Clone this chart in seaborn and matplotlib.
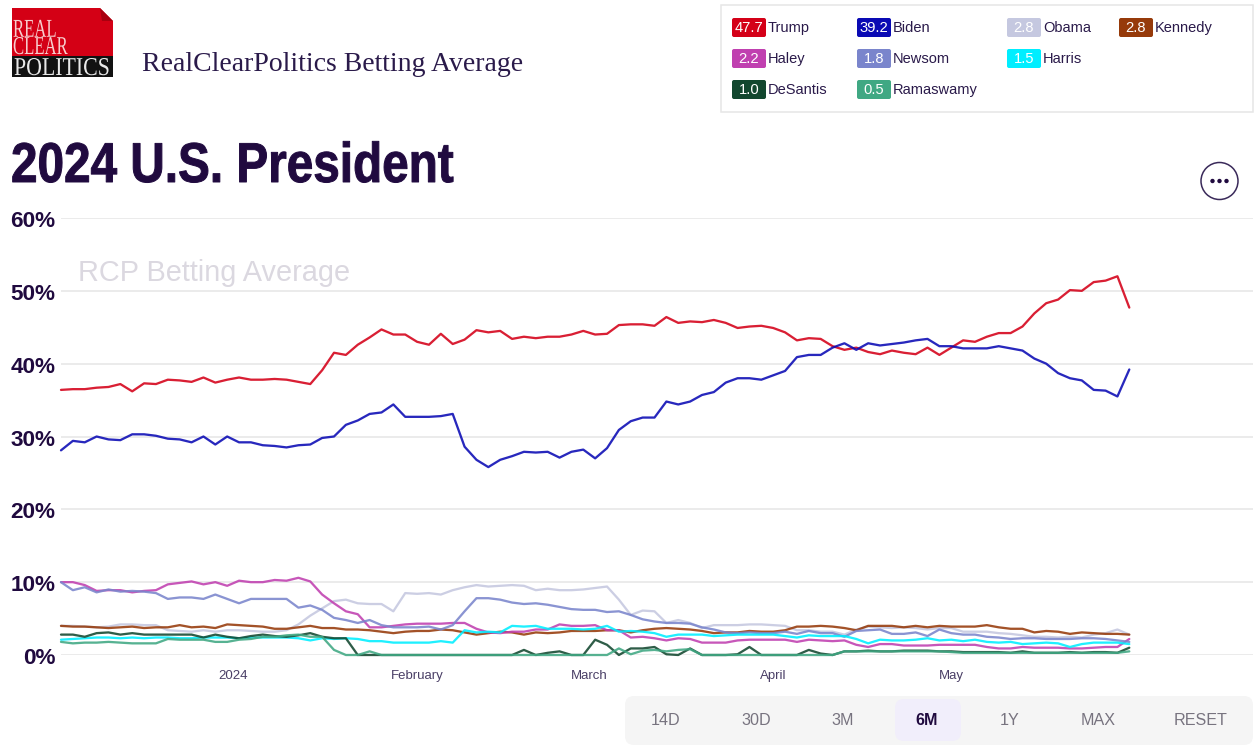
import numpy as np
import pandas as pd
import matplotlib
matplotlib.use("Agg")
import matplotlib.pyplot as plt
import matplotlib.dates as mdates
from matplotlib.patches import Rectangle, FancyBboxPatch, Circle, Polygon
from matplotlib.patheffects import AbstractPathEffect
from matplotlib.ticker import FuncFormatter
from matplotlib.transforms import Affine2D, ScaledTranslation
import seaborn as sns

START = "2023-12-03"
candidates = ["Trump", "Biden", "Obama", "Kennedy", "Haley", "Newsom", "Harris", "DeSantis", "Ramaswamy"]
latest = ["47.7", "39.2", "2.8", "2.8", "2.2", "1.8", "1.5", "1.0", "0.5"]
colors = ["#d40018", "#0a0ab4", "#c5c8e0", "#963a0a", "#c040b0", "#7a85cc", "#00eeff", "#12472f", "#40a883"]
y_ticks = [0, 10, 20, 30, 40, 50, 60]
buttons = ["14D", "30D", "3M", "6M", "1Y", "MAX", "RESET"]

trump = [36.4,36.5,36.5,36.7,36.8,37.2,36.2,37.3,37.2,37.8,
         37.7,37.5,38.1,37.4,37.8,38.1,37.8,37.8,37.9,37.8,
         37.5,37.2,39.1,41.5,41.2,42.6,43.6,44.7,44.0,44.0,
         43.0,42.6,44.1,42.7,43.3,44.6,44.3,44.5,43.4,43.7,
         43.5,43.7,43.7,44.0,44.5,44.0,44.1,45.3,45.4,45.4,
         45.2,46.4,45.6,45.8,45.7,46.0,45.6,44.9,45.1,45.2,
         44.9,44.3,43.2,43.5,43.4,42.4,41.9,42.2,41.6,41.3,
         41.8,41.5,41.3,42.2,41.2,42.2,43.2,43.0,43.7,44.2,
         44.2,45.1,46.9,48.3,48.8,50.1,50.0,51.2,51.4,52.0,47.7]
biden = [28.1,29.4,29.2,30.0,29.6,29.5,30.3,30.3,30.1,29.7,
         29.6,29.2,30.0,28.9,30.0,29.2,29.2,28.8,28.7,28.5,
         28.8,28.9,29.8,30.0,31.6,32.2,33.1,33.3,34.4,32.7,
         32.7,32.7,32.8,33.1,28.6,26.8,25.8,26.8,27.3,27.9,
         27.8,27.9,27.1,27.9,28.2,27.0,28.4,30.9,32.1,32.6,
         32.6,34.8,34.4,34.8,35.7,36.1,37.4,38.0,38.0,37.8,
         38.4,39.0,40.9,41.2,41.2,42.2,42.8,41.9,42.8,42.5,
         42.7,42.9,43.2,43.4,42.4,42.4,42.1,42.1,42.1,42.4,
         42.1,41.8,40.7,40.0,38.7,38.0,37.7,36.4,36.3,35.5,39.2]
obama = [4.0,4.0,3.9,3.8,3.9,4.2,4.2,4.1,4.1,3.4,
         3.3,3.2,3.4,3.2,3.4,3.4,3.3,3.2,3.2,3.4,
         4.2,5.4,6.4,7.4,7.6,7.1,7.0,7.0,6.0,8.5,
         8.4,8.5,8.3,8.9,9.3,9.6,9.4,9.5,9.6,9.5,
         8.9,9.1,8.9,8.9,9.0,9.2,9.4,7.6,5.5,6.1,
         6.0,4.4,4.8,4.4,3.7,4.1,4.1,4.1,4.2,4.2,
         4.1,4.0,3.4,3.4,3.2,3.2,2.8,3.5,3.9,3.8,
         3.7,3.8,3.7,3.5,3.7,3.7,3.2,3.2,3.2,3.0,
         2.9,2.7,2.5,2.5,2.4,2.5,2.4,2.8,3.0,3.5,2.8]
kennedy = [4.0,3.9,3.9,3.8,3.7,3.8,3.9,3.7,3.8,3.8,
           4.1,3.8,3.9,3.7,4.2,4.1,4.0,3.9,3.6,3.6,
           3.8,4.0,3.7,3.7,3.5,3.5,3.4,3.2,3.0,3.2,
           3.3,3.3,3.5,3.4,3.1,2.8,3.0,3.2,3.1,2.8,
           3.1,3.0,3.1,3.3,3.3,3.3,3.4,3.4,3.1,3.4,
           3.6,3.7,3.6,3.5,3.3,3.0,3.1,3.1,3.3,3.2,
           3.2,3.4,3.9,3.9,4.0,3.9,3.7,3.4,4.0,4.0,
           4.0,3.8,4.0,3.8,4.0,3.9,3.9,3.9,4.1,3.8,
           3.6,3.6,3.1,3.3,3.2,2.9,3.1,3.0,2.9,2.9,2.8]
haley = [10.0,10.0,9.6,8.8,8.9,8.9,8.6,8.8,8.9,9.7,
         9.9,10.1,9.7,10.0,9.5,10.2,10.0,10.0,10.3,10.2,
         10.6,10.1,8.3,7.1,6.0,5.6,3.8,3.8,4.0,4.2,
         4.3,4.3,4.3,4.4,4.4,3.6,3.1,3.0,3.2,3.2,
         3.5,3.5,4.2,4.0,4.0,4.1,3.4,3.4,2.4,2.5,
         2.3,2.0,2.3,2.2,1.7,1.7,1.7,2.0,2.1,2.1,
         2.1,2.1,1.8,2.1,2.0,1.9,2.0,1.4,1.1,1.5,
         1.5,1.3,1.3,1.3,1.4,1.4,1.4,1.4,1.1,0.9,
         0.9,1.1,1.0,1.0,1.0,0.9,0.9,1.0,1.1,1.1,2.2]
newsom = [10.0,8.9,9.3,8.6,9.0,8.7,8.8,8.7,8.5,7.7,
          7.9,7.9,7.7,8.3,7.7,7.1,7.7,7.7,7.7,7.7,
          6.5,6.8,6.2,5.1,4.8,4.4,4.8,4.1,3.8,3.8,
          3.8,3.9,3.5,4.1,6.0,7.8,7.8,7.6,7.2,7.0,
          7.1,6.9,6.6,6.3,6.2,6.2,5.9,6.0,5.5,4.9,
          4.6,4.4,4.4,4.3,3.8,3.5,3.1,3.0,3.1,3.0,
          3.0,3.2,2.9,3.3,3.0,3.0,2.5,3.3,3.4,3.5,
          2.9,2.9,3.1,2.6,3.5,3.0,2.8,2.8,2.5,2.4,
          2.2,2.3,2.3,2.2,2.2,2.2,2.3,2.3,2.2,2.0,1.8]
harris = [2.1,2.2,2.3,2.4,2.4,2.3,2.4,2.3,2.4,2.4,
          2.3,2.3,2.4,2.4,2.4,2.3,2.4,2.4,2.4,2.4,
          2.3,2.0,2.3,2.2,2.3,2.2,1.9,1.9,1.7,1.7,
          1.7,1.7,1.9,1.7,3.4,3.1,3.2,3.1,4.0,3.9,
          4.0,3.6,3.6,3.6,3.5,3.6,4.0,3.2,3.3,3.2,
          3.0,2.5,2.8,2.8,2.8,2.6,2.7,2.8,2.8,2.8,
          2.8,2.6,2.4,2.7,2.6,2.6,2.6,2.2,1.6,2.1,
          2.0,2.0,2.1,2.3,2.0,2.1,1.9,2.1,1.8,1.7,
          1.8,1.5,1.6,1.7,1.6,1.1,1.5,1.7,1.7,1.7,1.5]
desantis = [2.8,2.8,2.5,3.0,3.1,2.8,3.0,2.8,2.8,2.8,
            2.8,2.8,2.4,2.8,2.5,2.3,2.6,2.8,2.6,2.5,
            2.7,3.0,2.5,2.3,2.3,0.0,0.0,0.0,0.0,0.0,
            0.0,0.0,0.0,0.0,0.0,0.0,0.0,0.0,0.0,0.7,
            0.0,0.3,0.5,0.0,0.0,2.1,1.4,0.0,0.9,0.9,
            1.1,0.1,0.0,0.9,0.0,0.0,0.0,0.1,1.1,0.0,
            0.0,0.0,0.0,0.7,0.2,0.0,0.5,0.5,0.6,0.5,
            0.5,0.6,0.6,0.6,0.5,0.5,0.4,0.4,0.4,0.4,
            0.3,0.5,0.3,0.3,0.3,0.4,0.3,0.4,0.4,0.3,1.0]
ramaswamy = [1.8,1.6,1.7,1.7,1.8,1.7,1.6,1.6,1.6,2.2,
             2.1,2.1,2.1,1.8,1.8,2.1,2.2,2.5,2.5,2.7,
             2.8,2.5,2.5,0.7,0.0,0.0,0.5,0.0,0.0,0.0,
             0.0,0.0,0.0,0.0,0.0,0.0,0.0,0.0,0.0,0.0,
             0.0,0.0,0.0,0.0,0.0,0.0,0.0,0.9,0.1,0.6,
             0.7,0.5,0.7,0.8,0.0,0.0,0.0,0.0,0.0,0.0,
             0.0,0.0,0.0,0.0,0.0,0.0,0.5,0.5,0.5,0.5,
             0.5,0.5,0.5,0.5,0.5,0.4,0.3,0.3,0.3,0.3,
             0.3,0.3,0.3,0.3,0.3,0.3,0.3,0.3,0.3,0.3,0.5]
series = [trump, biden, obama, kennedy, haley, newsom, harris, desantis, ramaswamy]

dates = pd.date_range(START, periods=91, freq="2D")
frame = pd.concat(
    [pd.DataFrame({"date": dates, "candidate": n, "value": v}) for n, v in zip(candidates, series)],
    ignore_index=True,
)

W, H = 1260, 754
sns.set_theme(style="white")
plt.rcParams["font.family"] = ["Liberation Sans", "DejaVu Sans"]
INK = "#200a3f"


class Squeeze(AbstractPathEffect):
    """Narrow a real text horizontally about its left edge (condensed look)."""

    def __init__(self, x0, sx, stroke=0.0):
        super().__init__()
        self.x0, self.sx, self.stroke = x0, sx, stroke

    def draw_path(self, renderer, gc, tpath, affine, rgbFace=None):
        a = affine + Affine2D().translate(-self.x0, 0).scale(self.sx, 1).translate(self.x0, 0)
        g = renderer.new_gc()
        g.copy_properties(gc)
        if self.stroke:
            g.set_foreground(rgbFace)
            g.set_linewidth(self.stroke)
        else:
            g.set_linewidth(0)
        renderer.draw_path(g, tpath, a, rgbFace)
        g.restore()


fig = plt.figure(figsize=(W / 100, H / 100), dpi=100, facecolor="white")
L, R, T, B = 61, 1253, 218, 655
ax = fig.add_axes([L / W, (H - B) / H, (R - L) / W, (B - T) / H])
sns.lineplot(data=frame, x="date", y="value", hue="candidate", hue_order=candidates,
             palette=dict(zip(candidates, colors)), legend=False, ax=ax,
             linewidth=1.65, alpha=0.88, errorbar=None)
for line in ax.lines:
    line.set_clip_on(False)
    line.set_solid_joinstyle("round")

px_per_day = 5.935
ax.set_xlim(mdates.date2num(dates[0]), mdates.date2num(dates[0]) + (R - L) / px_per_day)
ax.set_ylim(0, 60)
ax.set_yticks(y_ticks)
ax.yaxis.set_major_formatter(FuncFormatter(lambda v, _: f"{v:.0f}%"))
ax.tick_params(axis="y", length=0, pad=4, labelsize=16.2, labelcolor=INK)
shift_down = ScaledTranslation(0, -1.0 / 100, fig.dpi_scale_trans)
for t in ax.get_yticklabels():
    t.set_fontweight("bold")
    t.set_transform(t.get_transform() + shift_down)
ax.set_xticks([mdates.date2num(pd.Timestamp(d)) for d in ["2024-01-01", "2024-02-01", "2024-03-01", "2024-04-01", "2024-05-01"]])
ax.set_xticklabels(["2024", "February", "March", "April", "May"])
ax.tick_params(axis="x", length=0, pad=11, labelsize=9.5, labelcolor="#4a3f66")
ax.set_xlabel("")
ax.set_ylabel("")
ax.grid(axis="y", color="#e6e6e6", linewidth=1.1)
ax.grid(axis="x", visible=False)
ax.set_axisbelow(True)
sns.despine(ax=ax, left=True, bottom=True, right=True, top=True)

# overlay in reference pixels for the page furniture
ov = fig.add_axes([0, 0, 1, 1], facecolor="none")
ov.set_xlim(0, W)
ov.set_ylim(H, 0)
ov.axis("off")

# logo
ov.add_patch(Polygon([(12, 8), (100, 8), (113, 21), (113, 56), (12, 56)], closed=True, fc="#d40015", ec="none"))
ov.add_patch(Polygon([(100, 8), (113, 21), (102, 21)], closed=True, fc="#a8000f", ec="none"))
ov.add_patch(Rectangle((12, 56), 101, 21, fc="#111111", ec="none"))
logo_font = ["Liberation Serif", "DejaVu Serif"]
ov.text(13, 54, "REAL\nCLEAR", family=logo_font, fontsize=18.5, color="#f7cfcf", va="baseline",
        linespacing=0.72, path_effects=[Squeeze(13, 0.65)])
ov.text(14, 75, "POLITICS", family=logo_font, fontsize=18.5, color="#e8e8e8", va="baseline",
        path_effects=[Squeeze(14, 0.85)])

ov.text(142, 71, "RealClearPolitics Betting Average", family=logo_font, fontsize=20, color="#2a1a4a", va="baseline")
ov.text(11, 182, "2024 U.S. President", fontsize=40.4, fontweight="bold", color=INK, va="baseline",
        path_effects=[Squeeze(11, 0.85, stroke=0.7)])
ov.text(78, 281, "RCP Betting Average", fontsize=20.8, color="#dbd8e0", va="baseline")

# legend box
ov.add_patch(Rectangle((721, 5), 532, 107, fc="white", ec="#e6e6e6", lw=1.1))
col_x = [732, 857, 1007, 1119]
row_y = [27.5, 58.5, 89.5]
slots = [(0, 0), (0, 1), (0, 2), (0, 3), (1, 0), (1, 1), (1, 2), (2, 0), (2, 1)]
for (r, c), name, val, col in zip(slots, candidates, latest, colors):
    x, y = col_x[c], row_y[r]
    ov.add_patch(FancyBboxPatch((x, y - 9.5), 34, 19, boxstyle="round,pad=0,rounding_size=2", fc=col, ec="none"))
    ov.text(x + 17, y + 0.3, val, color="white", fontsize=10.6, ha="center", va="center")
    ov.text(x + 36, y + 0.3, name, color="#2a1a4a", fontsize=10.55, ha="left", va="center")

# menu button
ov.add_patch(Circle((1219.5, 181), 18.5, fc="white", ec="#3a2a5a", lw=1.1))
for dx in (-7, 0, 7):
    ov.add_patch(Circle((1219.5 + dx, 181), 2.2, fc=INK, ec="none"))

# range buttons
ov.add_patch(FancyBboxPatch((625, 696), 628, 49, boxstyle="round,pad=0,rounding_size=9", fc="#f5f5f5", ec="none"))
ov.add_patch(FancyBboxPatch((895, 699), 66, 42, boxstyle="round,pad=0,rounding_size=9", fc="#f1eefb", ec="none"))
btn_x = [666, 756, 843, 927, 1010, 1098, 1201]
for x, lab in zip(btn_x, buttons):
    on = lab == "6M"
    ov.text(x, 720.5, lab, ha="center", va="center", fontsize=11.6,
            color=INK if on else "#77737f", fontweight="bold" if on else "normal")

fig.savefig("out.png", dpi=100, facecolor="white")
